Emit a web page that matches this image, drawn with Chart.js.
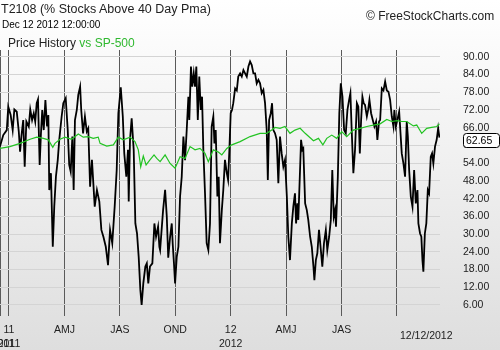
<!DOCTYPE html>
<html>
<head>
<meta charset="utf-8">
<script src="https://cdn.jsdelivr.net/npm/chart.js@4/dist/chart.umd.min.js"></script>
<style>
  html, body { margin: 0; padding: 0; }
  #wrap {
    position: relative; width: 500px; height: 350px; overflow: hidden;
    background: linear-gradient(to bottom, #ffffff 0%, #f2f2f2 40%, #dedede 100%);
    font-family: "Liberation Sans", Arial, sans-serif; color: #222;
  }
  #wrap canvas { position: absolute; left: 0; top: 0; }
  .txt { position: absolute; white-space: nowrap; }
</style>
</head>
<body>
<div id="wrap">
  <canvas id="canvas" width="500" height="350"></canvas>
  <div class="txt" style="left:1px;top:2px;font-size:12.5px;">T2108 (% Stocks Above 40 Day Pma)</div>
  <div class="txt" style="left:2px;top:19px;font-size:10px;color:#000;">Dec 12 2012 12:00:00</div>
  <div class="txt" style="left:8px;top:36px;font-size:12px;">Price History <span style="color:#2fb82f">vs SP-500</span></div>
  <div class="txt" style="left:366px;top:9px;font-size:12px;">&copy; FreeStockCharts.com</div>
</div>
<script>
// x values are months since Jan 2011
var t2108Months = [-0.49,-0.31,-0.12,-0.04,0.09,0.20,0.29,0.42,0.53,0.60,0.67,0.77,0.85,0.94,1.07,1.15,1.25,1.34,1.42,1.50,
  1.57,1.66,1.73,1.80,1.88,1.97,2.06,2.13,2.18,2.27,2.37,2.45,2.54,2.64,2.72,2.85,2.94,3.07,3.18,3.26,
  3.34,3.43,3.50,3.57,3.67,3.75,3.85,3.91,4.01,4.11,4.21,4.29,4.39,4.49,4.64,4.76,4.89,5.00,5.11,5.24,
  5.36,5.47,5.59,5.72,5.83,5.92,6.05,6.16,6.24,6.35,6.44,6.48,6.55,6.64,6.75,6.84,6.93,7.02,7.11,7.18,
  7.27,7.38,7.46,7.54,7.63,7.76,7.87,7.96,8.07,8.14,8.18,8.34,8.45,8.54,8.62,8.72,8.81,8.86,8.93,8.99,
  9.08,9.17,9.26,9.35,9.44,9.53,9.62,9.71,9.76,9.85,9.92,10.00,10.07,10.14,10.22,10.30,10.38,10.45,10.52,10.61,
  10.70,10.79,10.88,10.97,11.06,11.12,11.19,11.28,11.35,11.42,11.52,11.60,11.69,11.79,11.86,11.93,12.00,12.07,12.14,12.24,
  12.33,12.41,12.51,12.60,12.69,12.78,12.87,12.96,13.05,13.14,13.23,13.32,13.41,13.50,13.59,13.68,13.77,13.86,13.95,14.01,
  14.08,14.17,14.24,14.31,14.40,14.49,14.58,14.67,14.76,14.85,14.94,15.04,15.12,15.21,15.31,15.39,15.48,15.54,15.61,15.66,
  15.76,15.81,15.88,15.93,16.03,16.12,16.20,16.30,16.39,16.48,16.53,16.61,16.69,16.78,16.88,16.96,17.05,17.15,17.23,17.33,
  17.42,17.50,17.58,17.65,17.70,17.80,17.88,17.96,18.05,18.14,18.23,18.32,18.41,18.48,18.55,18.64,18.73,18.83,18.91,18.99,
  19.06,19.13,19.20,19.27,19.37,19.44,19.51,19.60,19.69,19.78,19.87,19.94,20.03,20.09,20.18,20.27,20.36,20.45,20.54,20.63,
  20.72,20.81,20.86,20.94,21.02,21.12,21.17,21.26,21.35,21.44,21.53,21.59,21.66,21.75,21.84,21.93,22.02,22.11,22.16,22.25,
  22.32,22.38,22.43,22.51,22.59,22.67,22.74,22.83,22.90,22.97,23.06,23.15,23.23,23.30];
var t2108Values = [59.6,63.5,65.2,73.1,70.3,65.2,72.2,71.4,64.7,57.9,63.0,68.6,52.8,68.1,66.4,72.2,68.6,70.9,68.1,74.3,
  75.6,53.4,64.1,72.0,65.2,75.4,66.4,70.3,44.9,50.6,25.7,39.3,49.4,55.1,61.9,69.8,74.3,76.0,65.2,53.4,
  51.1,63.0,44.9,68.6,72.0,77.1,79.9,72.0,64.1,69.8,64.7,65.8,46.0,55.1,39.3,44.9,41.0,31.4,29.1,25.7,
  19.5,31.4,26.9,39.3,51.7,70.9,79.7,69.8,57.3,49.4,58.5,41.0,61.9,69.2,58.5,33.6,30.2,22.3,11.1,6.0,
  13.3,19.0,20.1,13.3,19.0,20.1,33.6,29.1,32.5,25.7,24.6,38.0,45.0,36.0,22.0,29.0,33.6,26.9,20.1,13.3,
  22.3,25.7,42.7,49.4,63.0,55.0,65.2,76.5,68.6,86.7,79.9,84.4,79.9,86.7,68.6,83.3,72.0,76.5,58.5,43.8,
  26.9,24.6,33.6,66.4,69.8,60.7,65.2,42.7,49.4,26.9,38.1,44.9,55.1,50.6,48.3,58.5,70.9,72.0,74.3,79.3,
  78.6,83.3,84.4,83.3,85.5,84.4,83.3,86.7,88.4,87.2,84.4,84.4,81.0,82.2,81.0,77.7,78.8,74.3,65.2,48.3,
  68.6,70.9,74.3,65.2,64.1,61.9,47.2,63.0,57.3,52.8,55.1,42.7,29.1,21.2,33.6,39.3,43.8,33.6,40.4,34.8,
  52.8,61.9,58.5,59.0,40.4,38.1,34.8,29.1,25.7,19.0,14.4,21.2,23.5,31.4,24.6,19.0,26.9,31.4,24.6,29.1,
  34.8,51.7,35.9,38.1,32.5,49.4,70.9,81.0,76.5,65.2,64.1,72.0,75.4,77.7,65.2,50.6,58.5,74.3,73.1,57.3,
  68.6,76.5,74.3,73.7,69.8,72.0,75.4,70.9,68.6,66.4,68.1,61.9,68.1,68.6,79.3,78.6,81.6,78.6,78.2,75.4,
  69.8,66.4,72.0,66.4,68.6,71.4,66.4,57.3,53.9,49.4,68.1,63.0,51.7,42.7,39.3,51.7,40.4,44.9,33.6,30.2,
  29.1,21.2,17.3,30.2,33.6,44.9,43.8,56.2,57.3,53.9,59.6,61.9,65.8,62.65];

var spxMonths = [-0.49,0.05,0.60,1.14,1.50,1.86,2.13,2.37,2.49,2.76,3.03,3.39,3.75,4.02,4.29,4.56,4.83,4.93,5.29,5.65,
  5.92,6.19,6.55,6.82,7.00,7.13,7.27,7.42,7.63,7.85,8.00,8.18,8.45,8.72,8.99,9.26,9.53,9.80,10.07,10.34,
  10.61,10.79,11.06,11.33,11.52,11.79,12.06,12.51,13.05,13.59,13.95,14.22,14.40,14.67,14.94,15.21,15.48,15.76,16.03,16.48,
  16.75,16.99,17.20,17.47,17.74,18.01,18.28,18.64,19.01,19.37,19.72,20.09,20.45,20.72,21.00,21.26,21.53,21.89,22.07,22.34,
  22.61,22.88,23.15,23.30];
var spxValues = [59.0,59.6,60.7,62.1,62.8,62.4,61.9,59.4,60.7,62.1,62.8,62.1,63.9,62.8,63.0,62.4,62.8,60.7,59.8,60.2,
  62.8,61.9,62.8,61.3,58.5,52.8,56.4,53.4,55.1,56.8,55.6,54.5,56.8,53.9,52.3,56.2,55.6,59.6,58.5,59.0,
  57.3,54.5,58.5,57.8,56.8,59.0,60.2,61.3,63.0,64.1,64.1,65.2,66.1,65.8,66.4,64.1,65.2,65.8,64.1,61.6,
  62.4,60.2,62.4,63.5,62.4,64.7,63.0,65.2,65.8,66.4,66.9,67.3,68.8,68.1,68.4,68.1,68.1,66.6,66.9,64.1,
  65.8,66.1,66.4,67.3];

var yTicks = [6,12,18,24,30,36,42,48,54,60,66,72,78,84,90];
var xTicks = [0,3,6,9,12,15,18,21];
var xTickLabels = [['11','2011'],'AMJ','JAS','OND',['12','2012'],'AMJ','JAS',''];
var lastLabel = '12/12/2012';
var lastValue = 62.65;

function toPoints(xs, ys) {
  return xs.map(function (x, i) { return { x: x, y: ys[i] }; });
}

var extras = {
  id: 'extras',
  afterDraw: function (chart) {
    var ctx = chart.ctx;
    var xs = chart.scales.x, ys = chart.scales.y;
    ctx.save();
    ctx.font = '10.5px "Liberation Sans", Arial, sans-serif';
    ctx.fillStyle = '#222';
    ctx.textBaseline = 'middle';
    // second, overlapped year label at the left edge
    ctx.textAlign = 'center';
    ctx.fillText('2011', xs.getPixelForValue(0) - 6, 344);
    // date of last bar
    ctx.textAlign = 'left';
    ctx.fillText(lastLabel, 400, 336);
    // last value box
    var y = ys.getPixelForValue(lastValue) + 2;
    var bx = 463, bw = 36, bh = 14;
    ctx.beginPath();
    ctx.roundRect(bx + 0.5, Math.round(y - bh / 2) + 0.5, bw, bh, 3);
    ctx.fillStyle = '#fff';
    ctx.fill();
    ctx.strokeStyle = '#000';
    ctx.lineWidth = 1;
    ctx.stroke();
    ctx.fillStyle = '#000';
    ctx.fillText(lastValue.toFixed(2), bx + 3, Math.round(y) + 1);
    ctx.restore();
  }
};

var ctx = document.getElementById('canvas').getContext('2d');
var myChart = new Chart(ctx, {
  type: 'line',
  data: {
    datasets: [{
      label: 'SP-500',
      data: toPoints(spxMonths, spxValues),
      borderColor: '#22c322',
      borderWidth: 1.2,
      pointRadius: 0,
      tension: 0
    }, {
      label: 'T2108',
      data: toPoints(t2108Months, t2108Values),
      borderColor: '#000000',
      borderWidth: 1.8,
      pointRadius: 0,
      tension: 0
    }]
  },
  options: {
    responsive: false,
    animation: false,
    layout: { padding: { top: 50, left: 0, right: 0, bottom: 0 } },
    plugins: { legend: { display: false }, tooltip: { enabled: false } },
    scales: {
      x: {
        type: 'linear',
        min: -0.487,
        max: 23.33,
        afterBuildTicks: function (scale) {
          scale.ticks = [{ value: -0.487 }].concat(xTicks.map(function (v) { return { value: v }; }));
        },
        afterFit: function (scale) {
          scale.height = 34;
          scale.paddingLeft = 0;
          scale.paddingRight = 0;
        },
        grid: { color: '#5a5a5a', lineWidth: 1, drawTicks: false },
        border: { display: false },
        ticks: {
          padding: 7,
          maxRotation: 0,
          autoSkip: false,
          color: '#222',
          font: { family: '"Liberation Sans", Arial, sans-serif', size: 10.5, lineHeight: '14px' },
          callback: function (v) {
            var i = xTicks.indexOf(v);
            return i < 0 ? '' : xTickLabels[i];
          }
        }
      },
      y: {
        position: 'right',
        min: 2.27,
        max: 92.3,
        afterBuildTicks: function (scale) {
          scale.ticks = yTicks.map(function (v) { return { value: v }; });
        },
        afterFit: function (scale) {
          scale.width = 60;
          scale.paddingTop = 0;
          scale.paddingBottom = 0;
        },
        grid: { color: '#d4d4d4', lineWidth: 1, drawTicks: false },
        border: { display: false },
        ticks: {
          padding: 23,
          color: '#222',
          font: { family: '"Liberation Sans", Arial, sans-serif', size: 10.5 },
          callback: function (v) { return v.toFixed(2); }
        }
      }
    }
  },
  plugins: [extras]
});
</script>
</body>
</html>
